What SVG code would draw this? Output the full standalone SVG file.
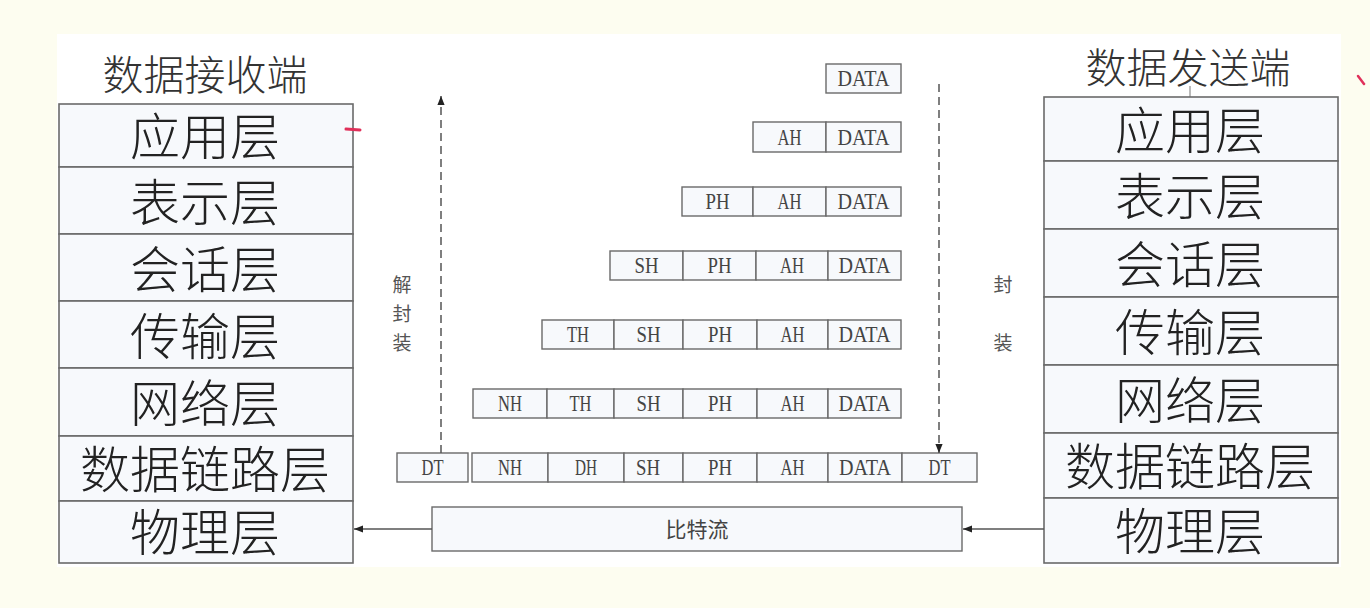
<svg xmlns="http://www.w3.org/2000/svg" width="1370" height="608" viewBox="0 0 1370 608">
<style>
.layer{fill:#f7f9fc;stroke:#6a6a6a;stroke-width:1.6}
.cell{fill:#f7f9fc;stroke:#6a6a6a;stroke-width:1.4}
.big{font-family:"Noto Sans CJK SC","Noto Sans CJK JP",sans-serif;font-size:50px;font-weight:300;fill:#222;text-anchor:middle;dominant-baseline:central}
.title{font-family:"Noto Sans CJK SC","Noto Sans CJK JP",sans-serif;font-size:41px;font-weight:300;fill:#333;text-anchor:middle;dominant-baseline:central}
.lbl{font-family:"Liberation Serif",serif;font-size:23px;fill:#444;text-anchor:middle;dominant-baseline:central}
.vt{font-family:"Noto Sans CJK SC","Noto Sans CJK JP",sans-serif;font-size:19px;fill:#555;text-anchor:middle;dominant-baseline:central}
.bs{font-family:"Noto Sans CJK SC","Noto Sans CJK JP",sans-serif;font-size:21px;fill:#444;text-anchor:middle;dominant-baseline:central}
.dash{stroke:#555;stroke-width:1.5;stroke-dasharray:8 5;fill:none}
.solid{stroke:#555;stroke-width:1.4;fill:none}
</style>
<defs>
<marker id="ah" viewBox="0 0 10 10" refX="10" refY="5" markerWidth="9" markerHeight="9" markerUnits="userSpaceOnUse" orient="auto">
<path d="M0,1 L10,5 L0,9 Z" fill="#222"/>
</marker>
</defs>
<rect x="0" y="0" width="1370" height="608" fill="#fdfdf0"/>
<rect x="57" y="34" width="1284" height="533" fill="#ffffff"/>

<g id="receiver">
<text class="title" x="205" y="72">数据接收端</text>
<rect class="layer" x="59" y="104" width="294" height="63"/>
<rect class="layer" x="59" y="167" width="294" height="67"/>
<rect class="layer" x="59" y="234" width="294" height="67"/>
<rect class="layer" x="59" y="301" width="294" height="67"/>
<rect class="layer" x="59" y="368" width="294" height="68"/>
<rect class="layer" x="59" y="436" width="294" height="65"/>
<rect class="layer" x="59" y="501" width="294" height="62"/>
<text class="big" x="205" y="133">应用层</text>
<text class="big" x="205" y="199">表示层</text>
<text class="big" x="205" y="266">会话层</text>
<text class="big" x="205" y="333">传输层</text>
<text class="big" x="205" y="400">网络层</text>
<text class="big" x="205" y="466">数据链路层</text>
<text class="big" x="205" y="529">物理层</text>
</g>

<g id="sender">
<text class="title" x="1188" y="65">数据发送端</text>
<line x1="1190" y1="86" x2="1190" y2="97" stroke="#777" stroke-width="1"/>
<rect class="layer" x="1044" y="97" width="294" height="64"/>
<rect class="layer" x="1044" y="161" width="294" height="68"/>
<rect class="layer" x="1044" y="229" width="294" height="68"/>
<rect class="layer" x="1044" y="297" width="294" height="68"/>
<rect class="layer" x="1044" y="365" width="294" height="68"/>
<rect class="layer" x="1044" y="433" width="294" height="65"/>
<rect class="layer" x="1044" y="498" width="294" height="65"/>
<text class="big" x="1190" y="127">应用层</text>
<text class="big" x="1190" y="193">表示层</text>
<text class="big" x="1190" y="261">会话层</text>
<text class="big" x="1190" y="329">传输层</text>
<text class="big" x="1190" y="397">网络层</text>
<text class="big" x="1190" y="463">数据链路层</text>
<text class="big" x="1190" y="528">物理层</text>
</g>

<g id="row1">
<rect class="cell" x="826" y="64" width="75" height="29"/>
<text class="lbl" x="863.5" y="78.5" textLength="52" lengthAdjust="spacingAndGlyphs">DATA</text>
</g>
<g id="row2">
<rect class="cell" x="753" y="122" width="73" height="30"/>
<rect class="cell" x="826" y="122" width="75" height="30"/>
<text class="lbl" x="789.5" y="137" textLength="24" lengthAdjust="spacingAndGlyphs">AH</text>
<text class="lbl" x="863.5" y="137" textLength="52" lengthAdjust="spacingAndGlyphs">DATA</text>
</g>
<g id="row3">
<rect class="cell" x="682" y="187" width="71" height="29"/>
<rect class="cell" x="753" y="187" width="73" height="29"/>
<rect class="cell" x="826" y="187" width="75" height="29"/>
<text class="lbl" x="717.5" y="201.5" textLength="24" lengthAdjust="spacingAndGlyphs">PH</text>
<text class="lbl" x="789.5" y="201.5" textLength="24" lengthAdjust="spacingAndGlyphs">AH</text>
<text class="lbl" x="863.5" y="201.5" textLength="52" lengthAdjust="spacingAndGlyphs">DATA</text>
</g>
<g id="row4">
<rect class="cell" x="610" y="251" width="73" height="29"/>
<rect class="cell" x="683" y="251" width="73" height="29"/>
<rect class="cell" x="756" y="251" width="72" height="29"/>
<rect class="cell" x="828" y="251" width="73" height="29"/>
<text class="lbl" x="646.5" y="265.5" textLength="24" lengthAdjust="spacingAndGlyphs">SH</text>
<text class="lbl" x="719.5" y="265.5" textLength="24" lengthAdjust="spacingAndGlyphs">PH</text>
<text class="lbl" x="792" y="265.5" textLength="24" lengthAdjust="spacingAndGlyphs">AH</text>
<text class="lbl" x="864.5" y="265.5" textLength="52" lengthAdjust="spacingAndGlyphs">DATA</text>
</g>
<g id="row5">
<rect class="cell" x="542" y="320" width="72" height="29"/>
<rect class="cell" x="614" y="320" width="69" height="29"/>
<rect class="cell" x="683" y="320" width="74" height="29"/>
<rect class="cell" x="757" y="320" width="71" height="29"/>
<rect class="cell" x="828" y="320" width="73" height="29"/>
<text class="lbl" x="578" y="334.5" textLength="22" lengthAdjust="spacingAndGlyphs">TH</text>
<text class="lbl" x="648.5" y="334.5" textLength="24" lengthAdjust="spacingAndGlyphs">SH</text>
<text class="lbl" x="720" y="334.5" textLength="24" lengthAdjust="spacingAndGlyphs">PH</text>
<text class="lbl" x="792.5" y="334.5" textLength="24" lengthAdjust="spacingAndGlyphs">AH</text>
<text class="lbl" x="864.5" y="334.5" textLength="52" lengthAdjust="spacingAndGlyphs">DATA</text>
</g>
<g id="row6">
<rect class="cell" x="473" y="389" width="74" height="29"/>
<rect class="cell" x="547" y="389" width="67" height="29"/>
<rect class="cell" x="614" y="389" width="69" height="29"/>
<rect class="cell" x="683" y="389" width="74" height="29"/>
<rect class="cell" x="757" y="389" width="71" height="29"/>
<rect class="cell" x="828" y="389" width="73" height="29"/>
<text class="lbl" x="510" y="403.5" textLength="24" lengthAdjust="spacingAndGlyphs">NH</text>
<text class="lbl" x="580.5" y="403.5" textLength="22" lengthAdjust="spacingAndGlyphs">TH</text>
<text class="lbl" x="648.5" y="403.5" textLength="24" lengthAdjust="spacingAndGlyphs">SH</text>
<text class="lbl" x="720" y="403.5" textLength="24" lengthAdjust="spacingAndGlyphs">PH</text>
<text class="lbl" x="792.5" y="403.5" textLength="24" lengthAdjust="spacingAndGlyphs">AH</text>
<text class="lbl" x="864.5" y="403.5" textLength="52" lengthAdjust="spacingAndGlyphs">DATA</text>
</g>
<g id="row7">
<rect class="cell" x="397" y="453" width="71" height="29"/>
<rect class="cell" x="472" y="453" width="76" height="29"/>
<rect class="cell" x="548" y="453" width="76" height="29"/>
<rect class="cell" x="624" y="453" width="59" height="29"/>
<rect class="cell" x="683" y="453" width="74" height="29"/>
<rect class="cell" x="757" y="453" width="71" height="29"/>
<rect class="cell" x="828" y="453" width="74" height="29"/>
<rect class="cell" x="902" y="453" width="75" height="29"/>
<text class="lbl" x="432.5" y="467.5" textLength="22" lengthAdjust="spacingAndGlyphs">DT</text>
<text class="lbl" x="510" y="467.5" textLength="24" lengthAdjust="spacingAndGlyphs">NH</text>
<text class="lbl" x="586" y="467.5" textLength="22" lengthAdjust="spacingAndGlyphs">DH</text>
<text class="lbl" x="648" y="467.5" textLength="24" lengthAdjust="spacingAndGlyphs">SH</text>
<text class="lbl" x="720" y="467.5" textLength="24" lengthAdjust="spacingAndGlyphs">PH</text>
<text class="lbl" x="792.5" y="467.5" textLength="24" lengthAdjust="spacingAndGlyphs">AH</text>
<text class="lbl" x="865" y="467.5" textLength="52" lengthAdjust="spacingAndGlyphs">DATA</text>
<text class="lbl" x="939.5" y="467.5" textLength="22" lengthAdjust="spacingAndGlyphs">DT</text>
</g>
<g id="bitstream">
<rect class="cell" x="432" y="507" width="530" height="44"/>
<text class="bs" x="697" y="528">比特流</text>
</g>

<g id="side-labels">
<text class="vt" x="402" y="283">解</text>
<text class="vt" x="402" y="312">封</text>
<text class="vt" x="402" y="341">装</text>
<text class="vt" x="1003" y="283">封</text>
<text class="vt" x="1003" y="341">装</text>
</g>

<g id="connectors">
<line class="dash" x1="441" y1="453" x2="441" y2="96" marker-end="url(#ah)"/>
<line class="dash" x1="939" y1="84" x2="939" y2="453" marker-end="url(#ah)"/>
<line class="solid" x1="432" y1="529" x2="354" y2="529" marker-end="url(#ah)"/>
<line class="solid" x1="1044" y1="529" x2="963" y2="529" marker-end="url(#ah)"/>
</g>

<g id="marks">
<path d="M346,129 L360,130" stroke="#e0305a" stroke-width="3" stroke-linecap="round"/>
<path d="M1358,76 L1364,84" stroke="#e0305a" stroke-width="2.5" stroke-linecap="round"/>
</g>
</svg>
